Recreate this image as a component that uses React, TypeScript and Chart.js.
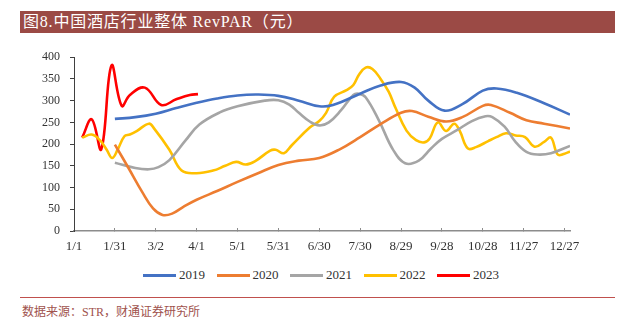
import React, { useEffect, useRef } from "react";
import { Chart, registerables } from "chart.js";

Chart.register(...registerables);

const TITLE = "图8.中国酒店行业整体 RevPAR（元）";
const SOURCE = "数据来源：STR，财通证券研究所";

const tickDays = [0, 30, 60, 90, 120, 150, 180, 210, 240, 270, 300, 330, 360];
const tickLabels = ["1/1", "1/31", "3/2", "4/1", "5/1", "5/31", "6/30", "7/30", "8/29", "9/28", "10/28", "11/27", "12/27"];
const yTicks = [0, 50, 100, 150, 200, 250, 300, 350, 400];

const seriesNames = ["2019", "2020", "2021", "2022", "2023"];
const seriesColors = ["#4472C4", "#ED7D31", "#A5A5A5", "#FFC000", "#FF0000"];

const days2019 = [30, 45, 60, 75, 90, 105, 120, 135, 150, 165, 180, 190, 210, 225, 240, 250, 260, 272, 285, 300, 310, 325, 345, 364];
const vals2019 = [258, 262, 270, 283, 295, 305, 312, 314, 311, 300, 287, 290, 316, 335, 343, 330, 300, 277, 292, 323, 328, 318, 294, 268];

const days2020 = [30, 40, 50, 58, 65, 72, 80, 90, 105, 120, 135, 150, 165, 180, 195, 210, 225, 240, 248, 260, 273, 285, 300, 306, 320, 332, 345, 364];
const vals2020 = [199, 145, 90, 52, 37, 40, 55, 72, 92, 113, 133, 152, 162, 168, 188, 216, 246, 272, 276, 263, 252, 262, 288, 290, 272, 255, 247, 236];

const days2021 = [30, 45, 55, 62, 70, 82, 92, 107, 120, 140, 150, 158, 165, 173, 180, 187, 196, 205, 209, 214, 224, 234, 243, 253, 262, 270, 281, 292, 302, 307, 316, 324, 332, 340, 350, 364];
const vals2021 = [157, 145, 142, 147, 163, 209, 245, 273, 287, 300, 301, 291, 272, 252, 243, 250, 278, 313, 316, 308, 253, 188, 156, 162, 190, 212, 232, 253, 264, 262, 240, 205, 182, 176, 179, 196];

const days2022 = [6, 13, 19, 24, 28, 32, 37, 41, 46, 55, 59, 70, 79, 90, 102, 111, 119, 126, 133, 144, 148, 154, 160, 173, 180, 185, 191, 200, 205, 209, 214, 219, 225, 231, 236, 244, 251, 257, 261, 267, 273, 279, 283, 289, 295, 304, 310, 317, 324, 331, 338, 345, 350, 355, 360, 364];
const vals2022 = [215, 222, 209, 187, 168, 187, 218, 222, 230, 247, 235, 187, 139, 133, 139, 150, 159, 153, 161, 185, 187, 179, 198, 238, 253, 272, 309, 324, 336, 359, 376, 373, 350, 320, 283, 231, 209, 204, 213, 250, 230, 247, 231, 190, 193, 207, 216, 225, 220, 216, 194, 205, 215, 176, 178, 183];

const days2023 = [6, 13, 20, 27.5, 35, 41, 52, 64, 75, 85, 91];
const vals2023 = [215, 257, 188, 381, 288, 313, 330, 290, 303, 313, 315];

const allDays = [days2019, days2020, days2021, days2022, days2023];
const allVals = [vals2019, vals2020, vals2021, vals2022, vals2023];

const FONT = "'Liberation Serif', 'Noto Sans CJK SC', serif";

export default function App() {
  const canvasRef = useRef<HTMLCanvasElement | null>(null);

  useEffect(() => {
    const canvas = canvasRef.current;
    if (!canvas) return;
    const datasets = seriesNames.map((name, i) => ({
      label: name,
      data: allDays[i].map((d, j) => ({ x: d, y: allVals[i][j] })),
      borderColor: seriesColors[i],
      backgroundColor: seriesColors[i],
      borderWidth: 2.6,
      pointRadius: 0,
      tension: 0.4,
      fill: false,
    }));
    const chart = new Chart(canvas, {
      type: "line",
      data: { datasets },
      options: {
        animation: false,
        responsive: false,
        devicePixelRatio: 1,
        layout: { padding: { top: 11, right: 63, left: 0, bottom: 0 } },
        plugins: { legend: { display: false }, tooltip: { enabled: false } },
        scales: {
          x: {
            type: "linear",
            min: 0,
            max: 364,
            afterBuildTicks: (scale: any) => {
              scale.ticks = tickDays.map((v) => ({ value: v }));
            },
            afterFit: (scale: any) => {
              scale.height = 34;
            },
            ticks: {
              autoSkip: false,
              maxRotation: 0,
              padding: 11,
              color: "#333333",
              font: { family: FONT, size: 13 },
              callback: (value: any) => {
                const idx = tickDays.indexOf(Number(value));
                return idx >= 0 ? tickLabels[idx] : "";
              },
            },
            grid: {
              drawOnChartArea: false,
              drawTicks: true,
              tickLength: -3,
              color: "#8C8C8C",
              lineWidth: 1,
            },
            border: { display: true, color: "#8C8C8C", width: 1.5 },
          },
          y: {
            type: "linear",
            min: 0,
            max: 400,
            afterBuildTicks: (scale: any) => {
              scale.ticks = yTicks.map((v) => ({ value: v }));
            },
            afterFit: (scale: any) => {
              scale.width = 74;
            },
            ticks: {
              padding: 10,
              color: "#333333",
              font: { family: FONT, size: 12 },
            },
            grid: {
              drawOnChartArea: false,
              drawTicks: true,
              tickLength: 4,
              color: "#404040",
              lineWidth: 1,
            },
            border: { display: true, color: "#404040", width: 1 },
          },
        },
      },
    });
    return () => chart.destroy();
  }, []);

  return (
    <div style={{ position: "fixed", left: 0, top: 0, width: 633, height: 323, background: "#ffffff", overflow: "hidden" }}>
      <div
        style={{
          position: "absolute",
          left: 20,
          top: 11,
          width: 595,
          height: 22,
          background: "#9B4A45",
          color: "#ffffff",
          fontFamily: FONT,
          fontSize: 16,
          lineHeight: "22px",
          letterSpacing: "0.8px",
          paddingLeft: 3,
          boxSizing: "border-box",
          whiteSpace: "nowrap",
        }}
      >
        {TITLE}
      </div>
      <canvas ref={canvasRef} width={633} height={225} style={{ position: "absolute", left: 0, top: 40, width: 633, height: 225 }} />
      {seriesNames.map((name, i) => (
        <div
          key={name}
          style={{
            position: "absolute",
            left: 143 + i * 73.5,
            top: 267,
            height: 16,
            display: "flex",
            alignItems: "center",
            fontFamily: FONT,
            fontSize: 13,
            color: "#333333",
            whiteSpace: "nowrap",
          }}
        >
          <span style={{ display: "inline-block", width: 33, height: 3, background: seriesColors[i], marginRight: 3 }} />
          <span>{name}</span>
        </div>
      ))}
      <div style={{ position: "absolute", left: 20, top: 297, width: 595, height: 1, background: "#C0504D" }} />
      <div
        style={{
          position: "absolute",
          left: 22,
          top: 305,
          fontFamily: FONT,
          fontSize: 12,
          lineHeight: "14px",
          color: "#A0524D",
          whiteSpace: "nowrap",
        }}
      >
        {SOURCE}
      </div>
    </div>
  );
}
